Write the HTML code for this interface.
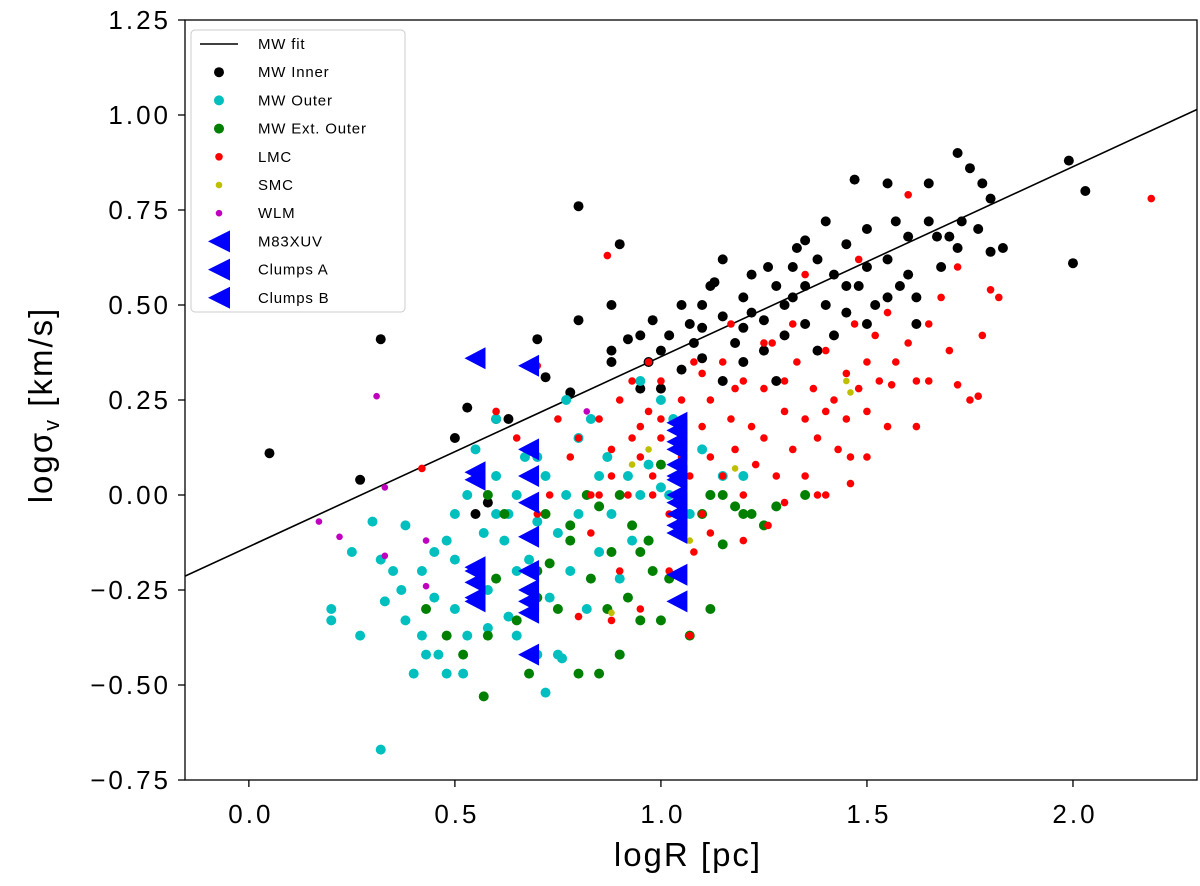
<!DOCTYPE html>
<html><head><meta charset="utf-8">
<style>
html,body{margin:0;padding:0;background:#fff;}
svg{display:block;font-family:"Liberation Sans","DejaVu Sans",sans-serif;}
</style></head>
<body>
<svg id="chart" width="1200" height="886" viewBox="0 0 1200 886" xmlns="http://www.w3.org/2000/svg"></svg>
<script>
const xTicks=[0.0,0.5,1.0,1.5,2.0];
const xTickLabels=["0.0","0.5","1.0","1.5","2.0"];
const yTicks=[1.25,1.0,0.75,0.5,0.25,0.0,-0.25,-0.5,-0.75];
const yTickLabels=["1.25","1.00","0.75","0.50","0.25","0.00","\u22120.25","\u22120.50","\u22120.75"];
const fitSlope=0.5;
const fitIntercept=-0.136;
const mwInner=[[0.05,0.11],[0.27,0.04],[0.32,0.41],[0.5,0.15],[0.53,0.23],[0.55,-0.05],[0.6,0.2],[0.63,0.2],[0.7,0.41],[0.72,0.31],[0.78,0.27],[0.8,0.76],[0.8,0.46],[0.88,0.35],[0.9,0.66],[0.88,0.38],[0.92,0.41],[0.95,0.42],[0.97,0.35],[0.98,0.46],[1.0,0.38],[1.0,0.28],[1.02,0.42],[1.05,0.5],[1.07,0.45],[1.1,0.5],[1.1,0.36],[1.12,0.55],[1.15,0.47],[1.15,0.3],[1.18,0.4],[1.2,0.52],[1.2,0.35],[1.22,0.58],[1.25,0.46],[1.25,0.38],[1.28,0.55],[1.3,0.5],[1.3,0.42],[1.32,0.6],[1.33,0.65],[1.35,0.45],[1.35,0.55],[1.38,0.62],[1.4,0.5],[1.4,0.72],[1.42,0.58],[1.45,0.66],[1.45,0.48],[1.47,0.83],[1.48,0.55],[1.5,0.7],[1.5,0.6],[1.52,0.5],[1.55,0.62],[1.55,0.82],[1.57,0.72],[1.58,0.55],[1.6,0.68],[1.62,0.52],[1.65,0.82],[1.68,0.6],[1.7,0.68],[1.72,0.9],[1.73,0.72],[1.75,0.86],[1.78,0.82],[1.8,0.78],[1.8,0.64],[1.83,0.65],[1.99,0.88],[2.0,0.61],[2.03,0.8],[1.72,0.65],[1.62,0.45],[1.38,0.38],[1.26,0.6],[1.15,0.62],[1.08,0.4],[1.22,0.48],[1.42,0.42],[1.5,0.45],[1.35,0.67],[1.28,0.3],[0.95,0.28],[1.05,0.33],[1.1,0.44],[1.6,0.58],[1.65,0.72],[1.77,0.7],[1.2,0.44],[1.45,0.55],[0.58,-0.02],[0.88,0.5],[1.13,0.56],[1.32,0.52],[1.55,0.52],[1.67,0.68]];
const mwOuter=[[0.32,-0.67],[0.2,-0.3],[0.2,-0.33],[0.27,-0.37],[0.3,-0.07],[0.32,-0.17],[0.35,-0.2],[0.37,-0.25],[0.38,-0.33],[0.4,-0.47],[0.42,-0.37],[0.42,-0.2],[0.43,-0.42],[0.45,-0.15],[0.45,-0.27],[0.48,-0.47],[0.48,-0.12],[0.5,-0.05],[0.5,-0.3],[0.5,-0.17],[0.52,-0.47],[0.53,-0.37],[0.55,0.12],[0.55,-0.2],[0.57,-0.1],[0.58,-0.25],[0.6,0.05],[0.6,-0.05],[0.62,-0.12],[0.63,-0.32],[0.65,0.0],[0.65,-0.2],[0.67,0.1],[0.68,-0.17],[0.7,-0.42],[0.7,-0.07],[0.72,-0.52],[0.72,0.05],[0.73,-0.27],[0.75,-0.42],[0.75,-0.1],[0.77,0.25],[0.77,0.0],[0.78,-0.2],[0.8,0.15],[0.8,-0.05],[0.82,-0.3],[0.85,0.05],[0.85,-0.15],[0.87,0.1],[0.88,-0.05],[0.9,-0.22],[0.92,0.05],[0.93,-0.12],[0.95,0.0],[0.97,-0.12],[1.0,0.02],[1.0,0.25],[1.02,0.0],[1.1,0.12],[1.12,0.0],[1.15,0.05],[1.2,0.05],[0.95,0.3],[1.03,0.2],[0.6,0.2],[0.83,0.2],[0.58,-0.35],[0.65,-0.37],[0.76,-0.43],[0.38,-0.08],[0.46,-0.42],[0.9,-0.42],[0.25,-0.15],[0.33,-0.28],[0.53,0.0],[0.63,-0.05],[0.7,0.1],[1.07,-0.05],[0.97,0.08]];
const mwExtOuter=[[0.43,-0.3],[0.48,-0.37],[0.52,-0.42],[0.57,-0.53],[0.58,-0.37],[0.6,-0.22],[0.62,-0.05],[0.65,-0.33],[0.68,-0.47],[0.7,-0.2],[0.72,-0.05],[0.73,-0.18],[0.75,-0.3],[0.78,-0.12],[0.8,-0.47],[0.82,0.0],[0.83,-0.22],[0.85,-0.47],[0.87,-0.3],[0.88,-0.15],[0.9,-0.42],[0.9,0.0],[0.92,-0.27],[0.93,-0.08],[0.95,-0.33],[0.97,-0.12],[0.98,-0.2],[1.0,-0.33],[1.0,0.08],[1.02,-0.22],[1.05,-0.1],[1.07,-0.37],[1.1,-0.05],[1.12,0.0],[1.15,-0.13],[1.15,0.0],[1.18,-0.03],[1.2,-0.05],[1.22,-0.05],[1.25,-0.08],[1.28,-0.03],[1.35,0.0],[1.12,-0.3],[0.78,-0.08],[0.58,0.0],[0.7,-0.27],[0.95,-0.15],[0.85,-0.03]];
const lmc=[[0.42,0.07],[0.6,0.22],[0.7,0.34],[0.65,0.15],[0.73,0.0],[0.75,0.2],[0.78,0.1],[0.8,0.15],[0.83,-0.1],[0.85,0.2],[0.85,0.0],[0.88,0.12],[0.9,0.25],[0.9,-0.2],[0.92,0.0],[0.93,0.3],[0.95,0.1],[0.95,-0.3],[0.97,0.22],[0.98,0.05],[1.0,0.3],[1.0,0.15],[1.02,-0.05],[1.05,0.25],[1.05,0.1],[1.07,0.05],[1.1,0.18],[1.1,0.32],[1.12,0.1],[1.12,0.25],[1.15,0.05],[1.15,0.35],[1.17,0.2],[1.18,0.12],[1.2,0.3],[1.2,0.0],[1.22,0.18],[1.23,0.08],[1.25,0.28],[1.25,0.15],[1.27,0.4],[1.28,0.05],[1.3,0.22],[1.3,0.3],[1.32,0.12],[1.33,0.35],[1.35,0.2],[1.35,0.05],[1.37,0.28],[1.38,0.15],[1.4,0.38],[1.4,0.0],[1.42,0.25],[1.43,0.12],[1.45,0.32],[1.45,0.2],[1.47,0.45],[1.48,0.28],[1.5,0.35],[1.5,0.22],[1.52,0.42],[1.53,0.3],[1.55,0.48],[1.57,0.35],[1.6,0.4],[1.62,0.3],[1.65,0.45],[1.68,0.52],[1.7,0.38],[1.72,0.6],[1.75,0.25],[1.78,0.42],[1.8,0.54],[1.82,0.52],[1.77,0.26],[1.72,0.29],[1.56,0.29],[1.46,0.1],[1.46,0.03],[1.38,0.0],[1.3,-0.02],[1.26,-0.08],[1.2,-0.12],[1.1,-0.05],[1.08,-0.15],[1.07,-0.37],[1.02,-0.2],[0.98,0.0],[0.93,0.15],[0.88,-0.33],[0.83,0.0],[0.7,-0.05],[2.19,0.78],[1.6,0.79],[0.87,0.63],[1.48,0.62],[1.35,0.58],[1.25,0.4],[1.17,0.45],[1.08,0.35],[1.0,0.2],[0.95,0.18],[0.97,0.35],[1.12,-0.1],[1.18,0.28],[1.4,0.22],[1.5,0.1],[1.62,0.18],[0.8,-0.32],[0.88,0.05],[1.32,0.45],[1.55,0.18],[1.65,0.3]];
const smc=[[1.45,0.3],[1.46,0.27],[1.18,0.07],[0.93,0.08],[1.07,-0.12],[0.88,-0.31],[0.97,0.12]];
const wlm=[[0.17,-0.07],[0.22,-0.11],[0.31,0.26],[0.33,0.02],[0.33,-0.16],[0.43,-0.12],[0.43,-0.24],[0.82,0.22]];
const m83xuv=[[0.55,0.36],[0.55,0.06],[0.55,0.04],[0.55,-0.19],[0.55,-0.2],[0.55,-0.23],[0.55,-0.27],[0.55,-0.28]];
const clumpsA=[[0.68,0.34],[0.68,0.12],[0.68,0.05],[0.68,-0.02],[0.68,-0.11],[0.68,-0.2],[0.68,-0.25],[0.68,-0.28],[0.68,-0.31],[0.68,-0.42]];
const clumpsB=[[1.04,0.19],[1.04,0.17],[1.04,0.14],[1.04,0.12],[1.04,0.08],[1.04,0.05],[1.04,0.04],[1.04,0.0],[1.04,-0.02],[1.04,-0.05],[1.04,-0.08],[1.04,-0.1],[1.04,-0.21],[1.04,-0.28]];

const NS="http://www.w3.org/2000/svg";
const svg=document.getElementById('chart');
const L=185,R=1197,T=20,B=780;
const x0=-0.155,x1=2.301,y0=-0.75,y1=1.25;
function sx(v){return L+(v-x0)/(x1-x0)*(R-L);}
function sy(v){return B-(v-y0)/(y1-y0)*(B-T);}
function mk(tag,attrs,parent){const e=document.createElementNS(NS,tag);for(const k in attrs)e.setAttribute(k,attrs[k]);(parent||svg).appendChild(e);return e;}

const clip=mk('clipPath',{id:'pc'});mk('rect',{x:L,y:T,width:R-L,height:B-T},clip);
const plot=mk('g',{'clip-path':'url(#pc)'});



const fl=mk('line',{x1:sx(x0),y1:sy(fitIntercept+fitSlope*x0),x2:sx(x1),y2:sy(fitIntercept+fitSlope*x1),stroke:'#000','stroke-width':1.6},plot);



function dots(arr,color,r,name){
  const g=mk('g',{},plot);
  
  
  arr.forEach(p=>{const c=mk('circle',{cx:sx(p[0]),cy:sy(p[1]),r:r,fill:color},g);
    
    });
}
function tris(arr,name){
  const g=mk('g',{},plot);
  
  
  arr.forEach(p=>{const x=sx(p[0]),y=sy(p[1]);
    const t=mk('polygon',{points:`${x-11},${y} ${x+10},${y-11} ${x+10},${y+11}`,fill:'#0000ff'},g);
    
    });
}
dots(mwInner,'#000000',5,'mw-inner');
dots(mwOuter,'#00bfbf',5,'mw-outer');
dots(mwExtOuter,'#008000',5,'mw-ext-outer');
dots(lmc,'#ff0000',3.8,'lmc');
dots(smc,'#bfbf00',3.3,'smc');
dots(wlm,'#bf00bf',3.3,'wlm');
tris(m83xuv,'m83xuv');
tris(clumpsA,'clumps-a');
tris(clumpsB,'clumps-b');

const fr=mk('rect',{x:L,y:T,width:R-L,height:B-T,fill:'none',stroke:'#000','stroke-width':1.3});



xTicks.forEach((v,i)=>{const x=sx(v);
  mk('line',{x1:x,y1:B,x2:x,y2:B+7,stroke:'#000','stroke-width':1.3});
  const t=mk('text',{x:x+2,y:B+43,'font-size':26,'letter-spacing':3,'text-anchor':'middle',fill:'#000'});t.textContent=xTickLabels[i];
  
  });
yTicks.forEach((v,i)=>{const y=sy(v);
  mk('line',{x1:L-7,y1:y,x2:L,y2:y,stroke:'#000','stroke-width':1.3});
  const t=mk('text',{x:L-14,y:y+9,'font-size':26,'letter-spacing':3,'text-anchor':'end',fill:'#000'});t.textContent=yTickLabels[i];
  
  });

const xt=mk('text',{x:688,y:866,'font-size':33,'letter-spacing':2,'text-anchor':'middle',fill:'#000'});xt.textContent='logR [pc]';


const yt=mk('text',{x:0,y:0,'font-size':33,'letter-spacing':2,'text-anchor':'middle',fill:'#000',transform:'translate(52,405) rotate(-90)'});
yt.innerHTML='logσ<tspan font-size="22" dy="7">v</tspan><tspan dy="-7"> [km/s]</tspan>';



const lg=mk('g',{});


mk('rect',{x:191,y:30,width:214,height:282,rx:4,fill:'#fff','fill-opacity':0.85,stroke:'#ccc','stroke-width':1},lg);
const entries=[['line','#000','MW fit'],['dot','#000000','MW Inner',5],['dot','#00bfbf','MW Outer',5],['dot','#008000','MW Ext. Outer',5],['dot','#ff0000','LMC',3.8],['dot','#bfbf00','SMC',3.3],['dot','#bf00bf','WLM',3.3],['tri','#0000ff','M83XUV'],['tri','#0000ff','Clumps A'],['tri','#0000ff','Clumps B']];
entries.forEach((e,i)=>{const y=44+i*28.2;
  const g=mk('g',{},lg);
  
  
  if(e[0]==='line')mk('line',{x1:200,y1:y,x2:238,y2:y,stroke:'#000','stroke-width':1.6},g);
  else if(e[0]==='dot')mk('circle',{cx:219,cy:y,r:e[3],fill:e[1]},g);
  else mk('polygon',{points:`${208},${y} ${230},${y-11} ${230},${y+11}`,fill:e[1]},g);
  const t=mk('text',{x:258,y:y+5,'font-size':15,'letter-spacing':0.8,fill:'#000'},g);t.textContent=e[2];});
</script>
</body></html>
